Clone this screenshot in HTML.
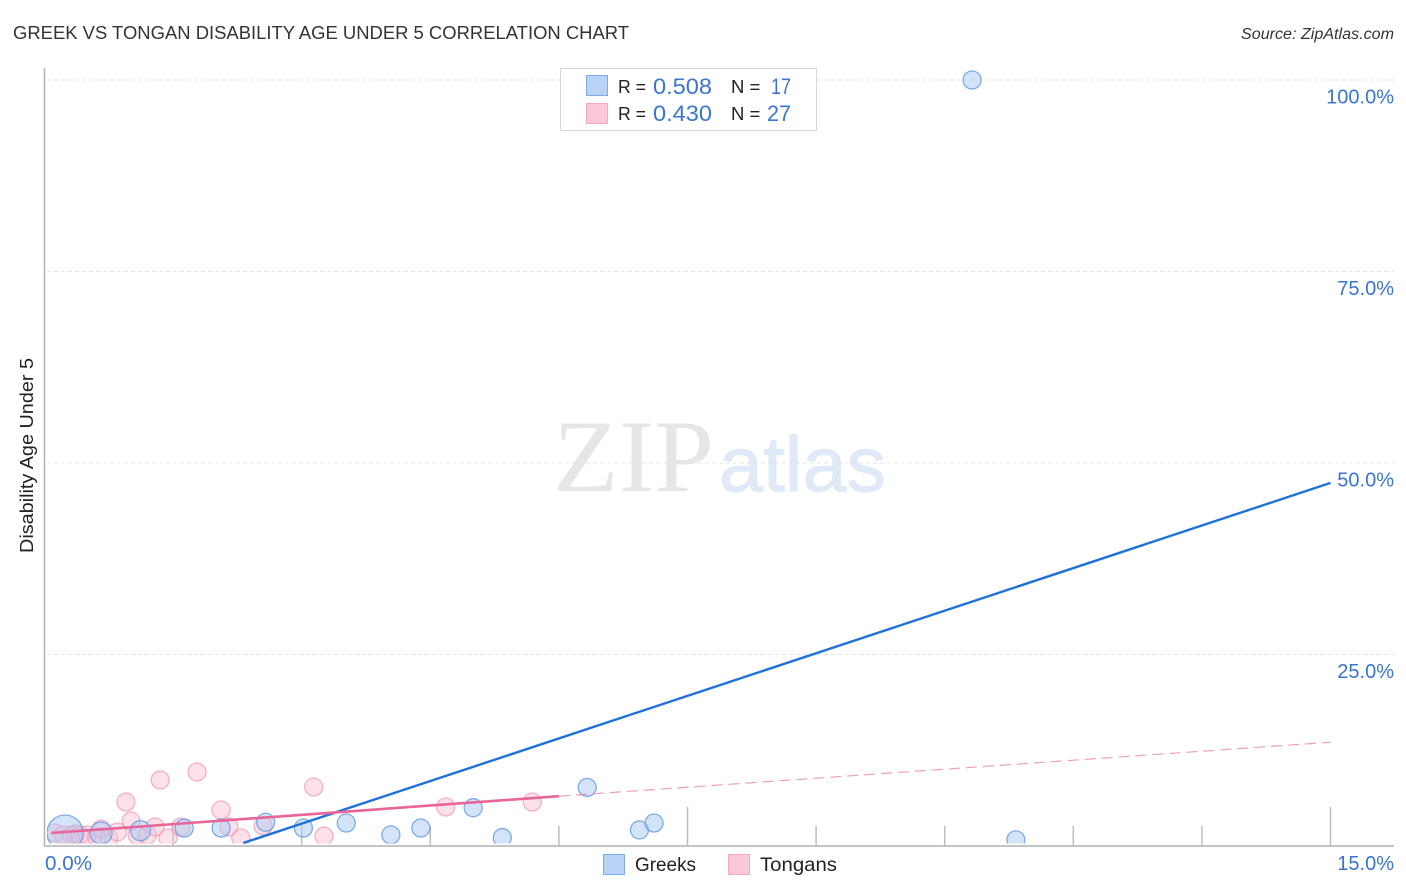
<!DOCTYPE html>
<html>
<head>
<meta charset="utf-8">
<style>
html,body{margin:0;padding:0;background:#fff;}
svg{display:block;font-family:"Liberation Sans",sans-serif;}
</style>
</head>
<body>
<svg id="chart" width="1406" height="892" viewBox="0 0 1406 892" xmlns="http://www.w3.org/2000/svg">
  <defs><clipPath id="plot-clip"><rect x="47" y="60" width="1300" height="783.5"/></clipPath></defs>
  <text x="13" y="39" font-size="18.5" fill="#333" textLength="616" lengthAdjust="spacingAndGlyphs">GREEK VS TONGAN DISABILITY AGE UNDER 5 CORRELATION CHART</text>
  <text x="1241" y="39" font-size="15.5" font-style="italic" fill="#333" textLength="153" lengthAdjust="spacingAndGlyphs">Source: ZipAtlas.com</text>
  <g>
    <text x="553" y="491" font-family="'Liberation Serif',serif" font-size="103" fill="#e6e6e6" textLength="161" lengthAdjust="spacingAndGlyphs">ZIP</text>
    <text x="719" y="491" font-size="78" fill="#dfe9f8" stroke="#dfe9f8" stroke-width="1" textLength="167" lengthAdjust="spacingAndGlyphs">atlas</text>
  </g>
  <g id="grid"></g>
  <g id="axes"></g>
  <g id="marks" clip-path="url(#plot-clip)"></g>
  <g id="lines"></g>
  <text transform="translate(33 455.5) rotate(-90)" font-size="18.5" fill="#222" text-anchor="middle" textLength="195" lengthAdjust="spacingAndGlyphs">Disability Age Under 5</text>
  <g>
    <rect x="560.5" y="68.5" width="256" height="62" fill="#fff" stroke="#d8d8d8"/>
    <rect x="586.5" y="75.5" width="21" height="20" fill="#b9d3f6" stroke="#7eaae6"/>
    <rect x="586.5" y="103.5" width="21" height="20" fill="#fbc8d9" stroke="#f4a9c0"/>
    <text x="618" y="93" font-size="18.5" fill="#222" textLength="28" lengthAdjust="spacingAndGlyphs">R =</text>
    <text x="653" y="94" font-size="22.5" fill="#3a75cf" textLength="59" lengthAdjust="spacingAndGlyphs">0.508</text>
    <text x="731" y="93" font-size="18.5" fill="#222">N =</text>
    <text x="771" y="94" font-size="22.5" fill="#3a75cf" style="font-kerning:none" textLength="20" lengthAdjust="spacingAndGlyphs">17</text>
    <text x="618" y="120" font-size="18.5" fill="#222" textLength="28" lengthAdjust="spacingAndGlyphs">R =</text>
    <text x="653" y="121" font-size="22.5" fill="#3a75cf" textLength="59" lengthAdjust="spacingAndGlyphs">0.430</text>
    <text x="731" y="120" font-size="18.5" fill="#222">N =</text>
    <text x="767" y="121" font-size="22.5" fill="#3a75cf" textLength="24" lengthAdjust="spacingAndGlyphs">27</text>
  </g>
  <g>
    <rect x="603.5" y="854.5" width="21" height="20" fill="#b9d3f6" stroke="#7eaae6"/>
    <text x="635" y="871" font-size="19.5" fill="#222" textLength="61" lengthAdjust="spacingAndGlyphs">Greeks</text>
    <rect x="728.5" y="854.5" width="21" height="20" fill="#fbc8d9" stroke="#f4a9c0"/>
    <text x="760" y="871" font-size="19.5" fill="#222" textLength="77" lengthAdjust="spacingAndGlyphs">Tongans</text>
  </g>
</svg>
<script>
const xTickValues = [0, 1.5, 3, 4.5, 6, 7.5, 9, 10.5, 12, 13.5, 15];
const xTickMajor = [0, 7.5, 15];
const xTickLabels = ["0.0%", "15.0%"];
const yTickValues = [25, 50, 75, 100];
const yTickLabels = ["25.0%", "50.0%", "75.0%", "100.0%"];

const greekX = [0.24, 0.66, 1.12, 1.63, 2.06, 2.58, 3.02, 3.52, 4.04, 4.39, 5.0, 5.34, 6.33, 6.94, 7.11, 10.82, 11.33];
const greekY = [1.7, 1.7, 2.0, 2.35, 2.35, 3.1, 2.35, 3.0, 1.45, 2.35, 5.0, 1.1, 7.65, 2.1, 3.0, 100, 0.8];
const greekSize = [18, 11, 10, 9, 9, 9, 9, 9, 9, 9, 9, 9, 9, 9, 9, 9, 9];

const tonganX = [0.12, 0.22, 0.32, 0.36, 0.41, 0.50, 0.61, 0.66, 0.75, 0.85, 0.95, 1.01, 1.08, 1.20, 1.29, 1.35, 1.44, 1.59, 1.78, 2.06, 2.15, 2.29, 2.55, 3.14, 3.26, 4.68, 5.69];
const tonganY = [1.7, 1.44, 1.44, 1.57, 1.44, 1.44, 1.17, 2.2, 1.04, 1.83, 5.74, 3.26, 1.44, 1.44, 2.48, 8.62, 1.04, 2.48, 9.66, 4.7, 2.48, 1.04, 2.61, 7.7, 1.3, 5.09, 5.74];
const tonganSize = [9, 9, 9, 9, 9, 9, 9, 9, 9, 9, 9, 9, 9, 9, 9, 9, 9, 9, 9, 9, 9, 9, 9, 9, 9, 9, 9];

const greekTrendX = [2.32, 15];
const greekTrendY = [0.4, 47.4];
const tonganSolidX = [0.08, 6.0];
const tonganSolidY = [1.7, 6.5];
const tonganDashX = [6.0, 15];
const tonganDashY = [6.5, 13.55];

const SVGNS = "http://www.w3.org/2000/svg";
function xScale(v) { return 44.5 + v * (1330.5 - 44.5) / 15; }
function yScale(v) { return 846 - v * (846 - 80) / 100; }
function make(tag, attrs, parent) {
  const el = document.createElementNS(SVGNS, tag);
  for (const k in attrs) el.setAttribute(k, attrs[k]);
  parent.appendChild(el);
  return el;
}
const grid = document.getElementById("grid");
const axes = document.getElementById("axes");
const marks = document.getElementById("marks");
const lines = document.getElementById("lines");

yTickValues.forEach(function (v, i) {
  const g = make("line", {x1: 47, x2: 1394, y1: yScale(v), y2: yScale(v), stroke: "#e4e4e4", "stroke-width": 1, "stroke-dasharray": "4 3"}, grid);
  
  
  const t = make("text", {x: 1394, y: yScale(v) + 23.5, "text-anchor": "end", "font-size": 20, fill: "#3a75cf"}, axes);
  t.textContent = yTickLabels[i];
  
  
});

const yAxis = make("line", {x1: 44.5, x2: 44.5, y1: 68, y2: 846, stroke: "#b0b0b0", "stroke-width": 1.5}, axes);


const xAxis = make("line", {x1: 44, x2: 1394, y1: 846, y2: 846, stroke: "#b0b0b0", "stroke-width": 1.5}, axes);



xTickValues.forEach(function (v) {
  if (v === 0) return;
  const top = xTickMajor.indexOf(v) >= 0 ? 807 : 826;
  const t = make("line", {x1: xScale(v), x2: xScale(v), y1: top, y2: 846, stroke: "#bdbdbd", "stroke-width": 1.5}, axes);
  
  
});
const xLabelLeft = make("text", {x: 45, y: 870, "font-size": 20, fill: "#3a75cf", textLength: 47, lengthAdjust: "spacingAndGlyphs"}, axes);
xLabelLeft.textContent = xTickLabels[0];


const xLabelRight = make("text", {x: 1394, y: 870, "font-size": 20, fill: "#3a75cf", "text-anchor": "end"}, axes);
xLabelRight.textContent = xTickLabels[1];



tonganX.forEach(function (v, i) {
  const c = make("circle", {cx: xScale(v), cy: yScale(tonganY[i]), r: tonganSize[i], fill: "#f9bdd0", "fill-opacity": 0.45, stroke: "#f19ab5", "stroke-opacity": 0.75, "stroke-width": 1.3}, marks);
  
  
});

greekX.forEach(function (v, i) {
  const c = make("circle", {cx: xScale(v), cy: yScale(greekY[i]), r: greekSize[i], fill: "#a9c9f2", "fill-opacity": 0.5, stroke: "#6a9fe0", "stroke-opacity": 0.85, "stroke-width": 1.3}, marks);
  
  
});

const tonganDash = make("line", {x1: xScale(tonganDashX[0]), y1: yScale(tonganDashY[0]), x2: xScale(tonganDashX[1]), y2: yScale(tonganDashY[1]), stroke: "#e8779f", "stroke-opacity": 0.7, "stroke-width": 1.2, "stroke-dasharray": "11 6"}, lines);


const greekTrend = make("line", {x1: xScale(greekTrendX[0]), y1: yScale(greekTrendY[0]), x2: xScale(greekTrendX[1]), y2: yScale(greekTrendY[1]), stroke: "#1f72d8", "stroke-width": 2.4}, lines);


const tonganSolid = make("line", {x1: xScale(tonganSolidX[0]), y1: yScale(tonganSolidY[0]), x2: xScale(tonganSolidX[1]), y2: yScale(tonganSolidY[1]), stroke: "#e8659a", "stroke-width": 2.6}, lines);


</script>
</body>
</html>
